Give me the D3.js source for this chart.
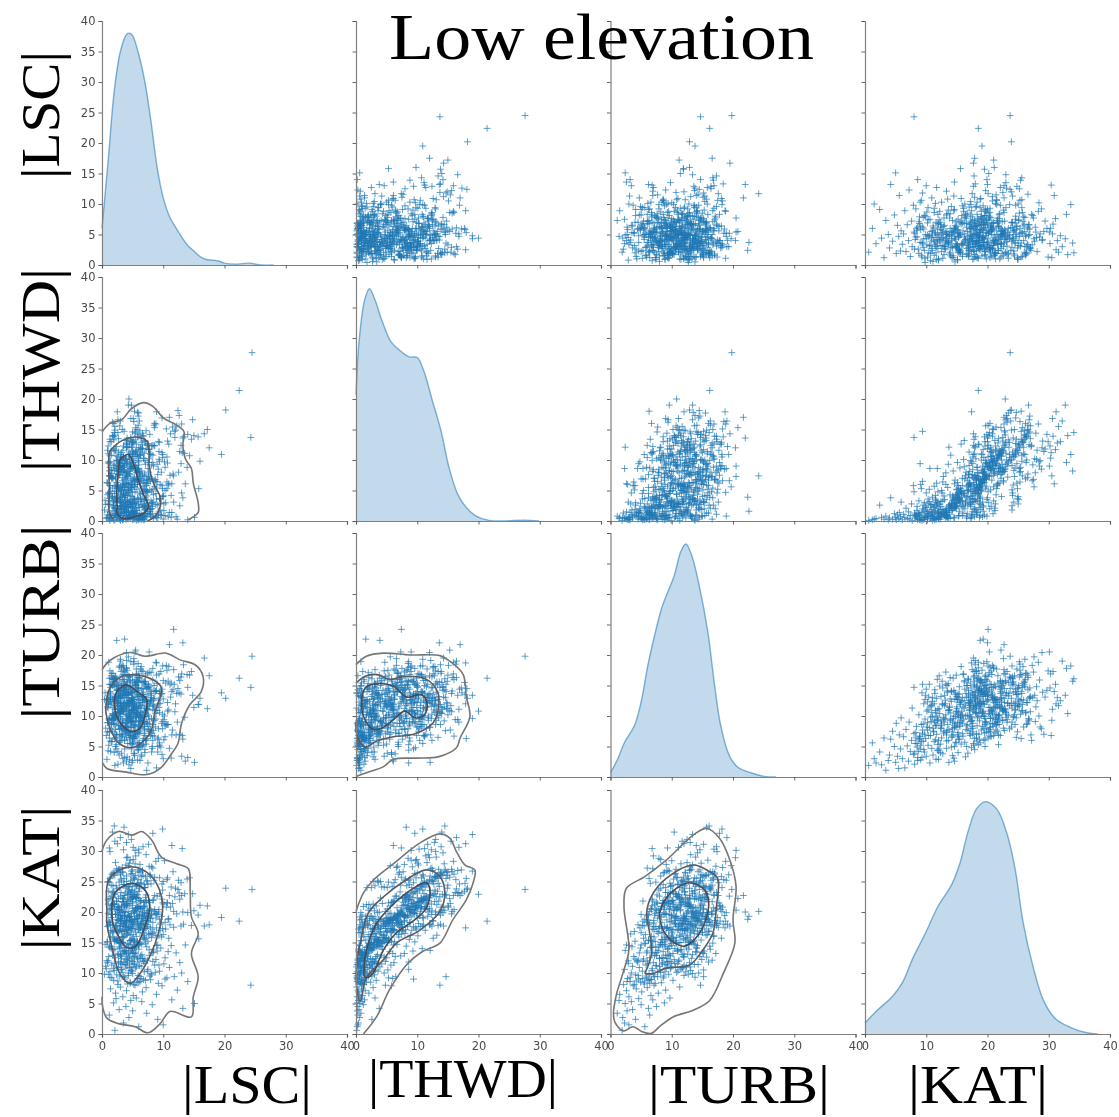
<!DOCTYPE html>
<html>
<head>
<meta charset="utf-8">
<script src="https://cdn.jsdelivr.net/npm/d3@7"></script>
<style>
  body { margin: 0; background: #fff; }
  svg { display: block; }
  .panels { filter: blur(0.4px); }
  .tick text { font-family: "DejaVu Sans", sans-serif; font-size: 11.5px; fill: #4a4a4a; }
  .big { font-family: "Liberation Serif", serif; fill: #000; }
</style>
</head>
<body>
<svg id="chart" width="1119" height="1117"></svg>
<script>
// values, one record per index
var lsc = [
  2.1,6.0,3.5,9.1,4.4,1.2,7.3,5.0,2.8,13.2,3.9,8.2,15.1,1.9,6.5,4.7,11.4,2.3,5.6,10.0,
  3.4,5.1,8.9,2.2,6.6,4.0,12.3,1.4,7.2,3.0,9.8,5.4,2.6,24.3,6.0,4.6,14.0,1.9,7.9,3.7,
  5.8,10.6,11.8,6.2,2.9,4.3,8.1,1.1,5.0,13.0,3.3,6.9,9.4,2.0,4.8,7.5,0.7,3.9,11.0,5.6,
  2.4,6.4,4.1,8.6,1.6,5.2,3.1,10.1,7.0,4.5,0.9,12.7,5.9,3.6,2.7,6.8,8.3,4.9,1.3,9.2,
  4.2,6.7,2.5,5.3,8.8,3.6,1.7,7.4,4.9,10.3,3.0,5.8,2.1,6.3,12.1,4.4,9.0,1.0,5.5,3.2,
  7.7,2.8,4.7,6.1,1.5,3.8,5.2,11.3,8.4,4.0,2.3,6.5,3.4,9.6,5.7,1.2,4.3,7.1,2.6,13.6,
  5.0,3.1,6.9,4.5,1.8,8.0,2.0,5.6,10.9,3.7,4.8,7.8,0.8,6.2,3.5,9.3,5.3,2.9,4.1,15.8,
  6.0,4.6,2.2,8.5,16.7,3.3,5.9,1.4,7.0,4.2,11.7,2.7,6.6,3.9,5.1,9.9,1.9,4.4,7.6,3.0,
  4.9,7.3,2.4,6.3,3.6,12.9,5.5,8.9,1.1,4.0,6.8,2.9,10.4,5.2,3.2,7.9,1.6,4.7,14.6,3.8,
  5.7,3.4,8.2,1.7,4.3,6.4,2.5,5.0,9.5,3.9,7.2,17.5,0.9,4.8,3.0,13.3,6.0,2.2,5.4,11.1,
  22.4,4.5,6.8,2.9,5.3,8.1,3.7,1.3,14.0,5.0,7.4,19.5,4.1,9.2,2.3,6.1,12.7,3.2,10.5,4.8,
  5.9,2.0,7.7,4.4,11.9,6.5,1.0,3.5,8.6,5.1,2.7,13.5,6.9,4.0,9.9,3.0,5.4,7.2,1.7,16.0,
  6.3,3.8,4.9,12.2,2.4,7.9,5.7,1.9,4.2,10.1,6.6,3.3,8.4,5.2,2.6,24.5,4.6,7.0,3.1,9.0,
  1.5,5.8,3.6,8.3,4.3,6.0,11.7,10.8,4.7,7.5,3.9,5.5,1.2,4.4,6.7,11.5,2.8,5.0,8.8,3.4,
  7.1,4.9,15.0,2.2,5.6,20.2,3.0,6.2,9.7,13.0,1.8,4.0,7.8,5.3,2.5,6.4,3.7,10.9,4.6,5.9,
  3.2,6.7,1.6,12.6,4.5,8.0,5.1,2.9,7.3,3.9,11.2,6.1,5.7,2.0,4.2,9.4,3.5,6.9,4.8,17.2,
  8.7,5.4,3.1,1.4,7.6,4.1,14.8,2.3,6.3,5.0,9.1,3.6,13.2,4.7,1.9,6.0,7.0,2.7,5.2,10.3,
  4.0,8.9,2.6,6.5,5.5,3.3,10.7,12.4,7.4,1.1,4.3,5.8,2.1,6.8,3.8,9.6,4.9,1.7,7.7,3.0,
  6.2,2.4,5.6,15.7,3.4,8.5,4.4,7.1,1.0,5.3,11.0,2.8,6.6,4.0,12.0,3.7,9.3,5.0,1.5,7.2,
  5.6,3.2,7.0,1.6,4.7,9.4,2.9,6.1,4.0,11.6,3.5,5.2,8.1,1.2,6.7,2.2,4.4,13.9,5.9,7.5,
  3.9,6.3,2.0,10.0,4.6,5.7,1.4,8.3,3.0,6.9,4.2,12.5,2.6,5.0,7.7,3.6,9.2,1.8,4.9,6.4,
  2.8,5.4,14.3,3.4,7.2,4.1,1.0,8.8,4.8,5.8,10.6,2.4,6.0,3.7,1.9,7.9,4.3,5.1,11.3,3.1,
  6.6,1.5,4.5,8.6,3.3,5.5,12.9,2.1,7.3,4.0,6.2,9.8,3.0,1.3,5.3,7.0,2.7,4.7,10.2,5.9,
  3.5,6.7,2.1,5.4,4.3,2.0,9.9,1.2,7.6,4.8,3.0,11.4,1.7,6.0,4.0,8.3,5.1,3.6,2.5,13.1,
  4.6,2.7,5.9,3.8,7.1,1.3,4.1,6.4,3.2,5.2,0.6,8.0,4.7,2.0,6.2,3.5,5.5,9.3,1.6,4.3,
  3.0,5.7,7.4,2.4,4.9,6.8,1.9,3.7,5.3,8.7,4.2,0.4,6.1,3.1,10.3,5.0,2.6,4.5,7.8,3.4,
  5.1,3.3,6.6,4.4,1.8,7.2,3.0,5.6,8.4,2.5,4.8,6.3,3.6,9.7,1.1,5.3,4.0,7.5,2.2,5.9,
  6.9,3.9,2.9,5.0,8.1,4.5,1.5,6.0,3.4,7.0,4.2,10.8,2.3,5.7,3.1,6.5,4.7,0.8,8.9,3.8,
  4.3,7.7,2.1,5.4,3.5,6.2,1.4,4.9,9.1,3.2,5.8,2.7,7.3,4.1,6.7,3.7,0.5,5.2,2.8,8.2,
  3.9,6.0,2.4,5.1,7.6,4.4,1.2,6.7,3.3,5.6,8.3,2.9,4.6,0.9,6.4,3.6,5.3,9.5,2.0,4.0,
  7.0,3.1,5.8,1.7,4.7,6.1,2.6,3.7,8.8,5.0,4.2,6.9,1.4,3.4,5.5,7.4,2.3,4.9,10.0,3.0,
  4.5,6.8,2.7,5.5,3.4,7.9,1.6,5.0,4.1,8.6,2.2,6.2,3.9,5.7,1.0,7.3,4.6,3.0,6.5,9.4,
  3.3,5.1,7.5,2.4,4.8,6.0,1.3,8.1,3.6,5.4,2.9,4.2,6.9,10.6,3.1,5.9,1.9,4.4,7.0,2.6,
  6.3,3.7,5.2,1.5,8.3,4.0,6.6,2.0,5.6,3.5,7.7,4.7,2.5,9.8,5.3,3.2,6.1,1.2,4.9,7.2,
  5.4,3.0,7.1,4.2,1.8,6.4,3.5,8.5,2.4,5.0,6.9,4.6,1.3,3.8,7.8,2.9,5.7,4.0,9.9,3.3,
  6.0,2.1,4.7,8.0,3.6,5.2,1.1,6.6,4.4,2.7,7.4,3.9,5.5,0.9,4.9,10.7,3.1,6.2,2.3,5.8
];
var thwd = [
  0.1,0.2,0.4,2.6,0.6,0.3,0.8,0.2,0.5,3.8,0.3,1.2,0.6,0.2,1.0,0.4,1.4,0.7,3.1,0.3,
  0.2,1.1,0.6,2.1,0.4,1.5,0.3,0.9,2.8,0.1,5.8,4.8,1.3,13.7,0.7,2.4,0.2,3.3,1.0,9.4,
  6.0,5.3,14.7,6.5,0.3,1.6,3.0,0.6,2.3,4.6,1.2,0.2,3.6,0.9,5.2,8.6,0.4,2.7,1.4,0.1,
  3.9,0.7,2.2,5.7,1.1,0.3,4.2,1.7,0.5,3.1,6.2,2.5,8.6,1.3,4.8,0.8,2.9,1.5,0.1,1.0,
  3.2,0.5,1.8,6.4,2.7,0.9,4.1,1.2,12.1,5.0,3.5,0.3,2.1,7.3,0.7,4.6,9.3,1.5,6.0,2.4,
  1.1,3.4,5.5,2.2,10.8,7.9,9.6,0.6,4.3,1.7,3.0,6.7,0.4,2.9,5.2,8.2,1.4,3.8,0.8,6.1,
  4.7,2.5,13.2,0.9,7.0,3.3,5.8,1.3,12.6,3.9,8.7,2.0,6.3,0.5,4.4,10.1,1.6,7.6,2.8,5.3,
  3.6,8.9,1.0,6.6,14.3,2.3,9.9,4.9,0.7,7.4,3.1,5.6,11.3,1.9,6.9,4.0,2.6,10.5,8.0,0.4,
  5.9,2.1,7.7,3.7,9.1,12.4,1.2,17.9,4.5,6.2,0.8,8.4,3.0,11.0,5.1,1.5,7.1,2.7,13.4,4.2,
  6.8,9.4,2.4,5.4,0.6,3.5,8.1,10.9,1.8,7.2,4.8,12.0,1.0,6.0,3.2,13.8,9.7,5.7,2.9,7.5,
  21.4,3.1,10.2,7.5,0.9,12.3,5.6,8.8,14.2,2.4,6.7,10.9,4.3,13.0,1.5,8.1,11.4,5.0,15.1,9.2,
  7.9,2.1,11.7,4.8,13.7,0.6,9.5,6.2,16.0,3.6,8.4,11.1,1.2,12.6,5.3,10.0,3.0,14.8,7.1,9.8,
  12.0,6.0,4.0,15.6,8.6,1.9,10.6,13.3,7.3,2.8,11.9,5.5,9.0,0.8,14.5,27.6,3.4,7.7,10.4,6.4,
  8.3,13.9,4.6,10.8,1.0,7.0,7.4,5.9,16.8,9.6,3.3,11.2,7.4,20.0,2.5,15.4,8.9,12.9,6.5,10.3,
  9.3,2.9,14.0,6.9,11.6,18.2,4.4,10.7,8.0,15.9,1.7,12.2,5.1,7.2,9.9,13.5,3.8,6.1,11.0,8.5,
  10.1,4.9,7.8,17.3,12.5,2.0,13.1,9.4,5.8,7.0,14.3,16.4,0.7,11.5,8.2,3.7,10.5,6.3,12.1,15.0,
  6.8,14.6,1.4,9.7,11.8,5.2,16.6,8.7,3.2,12.8,7.6,10.0,13.6,4.1,9.1,17.7,2.3,11.3,6.6,8.8,
  13.2,5.4,10.6,2.7,15.3,7.9,9.5,18.1,12.4,4.7,8.1,11.0,14.1,6.7,3.5,1.1,10.2,16.2,7.3,9.0,
  11.7,3.9,8.0,13.8,6.0,15.7,10.9,2.2,12.3,5.7,17.0,9.8,4.5,7.5,14.9,1.6,11.4,8.6,13.0,6.2,
  8.3,11.2,2.5,6.9,13.4,9.8,15.6,4.6,12.1,7.7,10.5,16.3,9.2,3.7,14.0,11.6,5.9,8.8,17.2,12.7,
  10.2,6.2,13.8,4.0,9.0,15.0,7.4,12.4,10.9,1.8,13.1,8.0,16.6,11.5,6.8,14.7,8.5,3.1,9.6,12.9,
  5.3,14.4,10.7,7.1,11.8,13.6,2.8,15.9,19.0,17.8,6.4,12.2,14.2,8.7,16.0,11.0,5.6,9.9,4.2,8.1,
  12.5,7.3,10.1,15.3,6.6,11.4,9.4,14.9,3.5,12.0,7.9,16.9,10.0,13.0,18.0,5.1,13.5,8.6,9.7,15.7,
  12.3,13.9,15.5,9.0,19.0,14.5,10.9,7.4,11.7,13.0,16.4,6.1,14.0,10.3,12.8,9.6,16.8,8.2,17.9,11.2,
  0.8,1.9,0.3,2.4,1.3,0.5,3.0,0.2,1.6,1.0,2.7,0.7,1.2,3.4,0.4,2.0,0.9,1.5,0.6,2.2,
  0.3,1.7,2.9,0.6,1.1,0.2,2.5,1.4,3.6,0.8,0.5,1.8,0.4,3.2,0.9,2.1,1.2,0.7,2.6,0.2,
  1.7,4.0,0.7,3.1,2.3,5.0,1.0,2.6,0.5,3.7,1.4,4.4,2.0,0.9,3.3,1.8,0.6,4.7,1.2,2.8,
  3.5,0.8,2.4,1.5,4.9,1.1,3.9,0.4,2.9,1.9,4.2,0.7,3.2,1.3,2.1,0.9,5.4,0.6,3.6,2.5,
  2.2,1.6,4.5,0.8,3.0,1.2,5.8,2.7,0.5,1.9,3.8,1.0,4.1,0.3,2.4,1.4,3.4,0.9,5.1,2.0,
  4.6,2.2,6.3,3.4,7.2,5.0,2.7,5.7,3.9,6.8,3.1,2.0,7.6,4.3,5.4,2.6,3.6,6.0,4.9,7.9,
  5.2,3.0,6.6,4.0,2.4,7.0,3.7,5.5,4.5,2.9,6.2,3.3,7.4,5.8,2.1,4.8,3.5,6.9,4.2,2.5,
  7.8,10.3,5.4,9.1,11.6,6.5,8.4,6.0,9.7,12.4,7.2,10.8,5.1,8.7,11.0,6.9,9.4,5.7,8.2,12.9,
  8.9,11.3,6.2,10.0,5.5,9.2,10.7,7.0,8.0,6.7,9.6,12.1,7.5,10.5,5.0,8.5,11.8,6.3,9.9,5.9,
  10.9,6.8,8.8,11.5,5.2,9.3,7.4,8.3,12.6,4.8,10.2,6.6,9.0,11.2,5.6,8.6,7.7,9.5,10.6,6.1,
  10.6,8.2,13.0,9.5,13.9,11.8,8.8,12.3,9.9,14.6,11.1,8.5,13.4,10.0,14.2,9.1,7.9,12.6,10.4,15.0,
  12.0,9.3,13.7,10.9,8.4,12.8,9.7,14.4,11.3,7.6,12.5,10.1,13.3,11.6,8.7,13.1,9.0,14.8,10.7,8.1
];
var turb = [
  1.9,5.6,2.3,4.1,2.0,6.4,1.1,2.7,3.6,6.2,7.5,5.0,2.4,8.8,3.4,1.4,6.9,4.6,9.7,3.0,
  3.0,6.6,1.5,7.8,5.1,2.6,9.0,4.2,6.0,11.3,3.7,7.1,2.1,14.7,8.3,5.5,3.2,10.2,6.7,4.6,
  2.8,8.6,15.2,7.2,5.9,12.0,4.1,9.5,6.3,3.4,10.8,7.7,5.2,13.1,8.1,2.3,6.8,11.7,4.7,9.9,
  12.4,3.6,7.4,9.3,5.8,14.3,8.4,6.1,10.5,2.9,12.9,7.0,4.4,16.0,9.7,5.3,11.1,8.9,13.8,6.4,
  9.2,6.0,12.6,3.8,10.4,14.1,7.5,11.2,2.4,8.7,13.4,5.4,16.3,9.8,6.9,12.0,10.9,4.3,15.2,8.0,
  11.6,7.9,13.9,5.6,9.4,17.2,10.3,3.1,12.8,6.5,14.8,8.8,11.0,4.9,13.2,9.6,7.3,16.7,10.6,2.6,
  12.3,8.2,15.6,6.2,10.1,13.7,4.0,11.5,18.1,7.6,9.0,14.4,12.7,5.0,10.8,16.9,8.5,13.0,3.3,11.9,
  7.1,12.5,9.7,15.0,19.5,6.7,11.4,13.6,4.5,10.0,17.6,8.4,12.2,14.9,5.7,9.1,16.1,10.7,7.8,13.3,
  11.8,6.3,14.2,9.3,12.1,16.4,8.6,18.7,5.2,10.2,13.1,7.0,15.4,11.3,3.9,12.6,9.5,14.6,17.3,8.0,
  10.6,13.5,6.8,12.8,9.2,15.7,11.7,5.5,14.0,8.3,12.4,16.6,7.4,10.9,13.8,18.4,4.8,11.1,9.9,15.1,
  16.2,10.4,13.1,7.8,15.4,9.6,12.2,5.9,14.7,11.0,17.0,13.8,8.5,12.6,6.4,10.0,15.8,11.5,18.3,9.1,
  13.3,7.2,12.1,16.5,10.7,14.5,8.9,11.9,6.7,13.0,15.1,9.8,12.5,17.9,10.3,14.0,7.5,11.2,16.0,12.9,
  8.1,14.9,11.6,13.7,5.3,12.3,16.8,10.1,15.5,9.4,13.5,7.0,11.8,18.9,14.3,19.8,9.9,12.7,6.0,15.3,
  12.0,10.5,17.4,8.6,13.9,11.3,24.2,15.7,9.0,12.4,14.6,6.6,16.2,10.8,13.2,7.7,18.0,11.7,14.1,9.5,
  15.6,12.8,11.4,5.0,17.7,12.9,14.2,8.3,13.6,16.9,10.2,19.1,7.4,12.1,15.0,9.7,13.4,11.0,6.8,18.6,
  10.9,14.4,8.8,13.8,12.0,17.1,9.3,15.9,11.5,7.1,13.1,16.3,10.6,14.8,12.6,5.6,18.2,9.9,13.7,11.2,
  14.0,7.6,12.3,15.2,10.0,17.5,13.4,8.7,11.8,16.6,6.2,14.7,22.0,9.2,12.7,15.5,10.8,13.0,19.4,8.4,
  11.6,16.7,9.6,13.5,20.8,7.9,12.2,14.5,10.3,18.8,6.9,15.8,11.1,13.9,8.0,17.3,12.8,9.4,20.5,10.7,
  13.3,22.4,15.0,11.9,8.9,14.1,16.4,10.5,12.5,7.3,21.7,13.6,9.7,17.8,12.0,22.6,11.4,15.6,8.6,14.8,
  12.1,15.0,9.0,17.0,6.5,13.7,10.7,16.1,8.2,14.3,11.7,18.5,13.0,7.4,15.5,12.5,9.8,16.8,14.6,11.0,
  13.4,17.7,8.6,12.8,15.9,10.2,14.7,6.0,19.3,11.3,13.9,16.4,9.4,12.3,17.2,14.0,7.9,15.2,10.6,18.1,
  14.5,11.5,16.7,8.8,13.1,15.6,12.0,18.8,9.6,13.5,17.5,6.9,14.2,11.0,16.0,12.6,19.7,8.2,15.4,10.3,
  12.9,16.6,14.8,10.9,18.3,7.0,13.6,15.7,11.8,20.4,9.1,14.4,12.2,17.4,6.3,15.1,13.2,18.9,10.0,16.3,
  14.6,17.3,11.7,20.5,13.4,16.1,18.2,9.3,15.2,12.5,19.0,14.0,10.4,16.9,13.0,17.8,11.1,15.7,12.0,6.8,
  7.3,10.6,4.5,8.9,6.1,12.3,9.4,5.2,11.5,3.9,8.0,13.4,6.8,10.0,2.7,7.7,9.1,12.0,5.8,14.4,
  8.5,4.9,11.0,7.0,13.0,6.3,9.8,3.2,10.9,8.2,5.5,12.7,7.5,15.2,6.6,9.2,4.2,11.8,8.7,13.7,
  10.2,6.9,13.2,8.1,11.4,5.4,9.0,14.0,7.6,12.2,4.6,10.8,15.3,8.8,11.9,3.5,9.6,13.6,6.4,12.7,
  8.3,14.9,10.5,5.9,12.5,7.2,16.2,9.3,11.2,4.0,13.5,8.6,10.0,15.7,6.7,11.7,9.8,2.9,14.2,7.8,
  12.4,9.4,6.2,15.0,10.7,8.0,13.0,11.0,5.0,14.6,7.3,12.0,9.0,16.6,10.3,6.0,13.8,8.4,11.5,4.7,
  11.3,8.5,13.3,6.6,14.7,10.1,7.4,12.6,9.2,15.5,11.8,5.7,13.9,8.9,10.6,16.8,6.9,12.1,9.7,14.3,
  7.9,12.9,10.4,15.0,8.2,11.6,13.6,6.2,9.5,14.1,11.1,7.1,12.3,16.0,10.0,8.8,13.1,5.3,15.8,9.9,
  12.4,9.1,14.2,10.8,13.0,7.7,15.1,11.5,8.8,12.9,16.5,10.2,13.8,6.4,11.3,14.5,9.5,12.1,17.4,10.6,
  13.4,11.0,8.3,15.4,12.6,9.8,14.0,7.2,13.1,16.0,10.4,12.2,15.7,8.6,11.7,14.7,9.3,13.5,6.8,11.2,
  10.1,14.3,12.7,8.0,15.9,11.4,13.2,9.6,16.9,12.0,7.5,14.9,10.7,13.7,11.8,18.0,8.9,15.2,12.3,10.0,
  13.9,10.9,15.3,12.1,17.0,9.7,14.4,11.6,16.2,13.0,8.6,15.8,12.7,10.3,14.8,18.2,11.2,13.6,7.9,16.7,
  12.5,15.6,10.5,14.0,17.6,11.9,13.3,9.2,16.4,12.9,14.7,8.2,15.1,11.5,13.8,10.8,17.3,12.2,9.9,14.5
];
var kat = [
  0.6,1.2,1.8,2.4,2.7,3.1,3.4,3.8,4.0,4.2,4.5,4.8,5.0,5.1,5.3,5.5,5.6,5.8,5.9,1.5,
  6.1,6.3,6.5,6.7,6.9,7.1,7.2,7.4,7.6,7.7,7.9,8.0,8.1,8.0,8.4,8.5,8.6,8.8,8.9,9.0,
  9.1,9.2,9.4,9.4,9.5,9.6,9.7,9.8,9.9,10.0,10.1,10.2,10.3,10.4,10.5,10.6,10.7,10.8,10.9,11.0,
  11.0,11.1,11.2,11.3,11.3,11.4,11.5,11.5,11.6,11.6,11.7,11.7,11.8,11.8,11.9,11.9,11.9,10.2,9.3,8.3,
  12.4,12.0,13.1,12.7,12.2,13.4,12.9,12.1,13.7,12.5,13.0,12.3,13.9,12.8,13.3,12.6,13.6,12.0,13.2,12.4,
  13.8,14.3,13.5,14.8,14.0,13.2,15.1,14.5,13.9,14.2,15.4,14.7,13.6,14.1,15.0,14.4,13.3,14.9,15.3,14.6,
  15.6,15.0,16.2,15.3,15.9,16.5,15.2,16.0,15.7,16.8,15.5,16.3,15.1,16.6,15.8,16.1,15.4,16.9,16.4,15.6,
  17.1,16.2,17.4,16.7,17.7,16.0,17.2,16.9,17.9,16.4,17.5,16.6,17.0,17.8,16.3,17.3,16.8,17.6,16.5,17.2,
  17.3,17.9,16.9,17.5,17.0,17.7,16.7,17.4,17.8,17.1,16.6,17.6,17.2,17.9,16.8,17.5,17.0,17.3,17.8,17.6,
  18.0,17.6,17.2,17.9,17.4,17.8,17.1,17.7,18.0,17.5,17.3,17.9,17.6,17.0,17.8,18.0,17.4,17.7,17.2,17.9,
  18.5,19.2,18.1,20.3,18.8,19.6,21.0,18.3,19.9,20.6,18.6,19.1,21.4,20.0,18.2,19.4,22.1,18.9,20.8,19.7,
  18.4,21.2,19.3,20.1,22.5,18.7,19.8,21.7,20.4,18.0,19.5,23.0,20.9,18.5,21.5,19.0,20.2,22.8,19.6,21.1,
  20.5,18.2,22.3,19.7,21.8,18.9,20.7,23.4,19.2,21.3,20.0,18.6,22.0,19.9,20.3,23.7,18.4,21.6,19.4,22.6,
  19.1,20.8,18.1,21.9,19.5,22.2,20.1,18.8,23.2,19.8,21.0,20.6,18.3,22.9,19.3,21.4,20.4,23.6,19.0,21.7,
  22.4,18.7,20.2,19.6,21.5,23.9,18.5,20.9,19.3,22.7,21.2,18.0,20.5,23.3,19.7,21.8,20.0,18.9,22.1,19.4,
  20.7,19.0,21.1,23.1,18.6,20.3,22.5,19.9,21.6,18.2,20.8,23.8,19.2,21.3,22.0,18.8,20.1,19.5,23.5,21.0,
  19.8,22.8,18.4,20.6,21.9,19.1,23.0,20.4,18.1,21.7,19.6,22.3,20.0,18.7,21.4,23.4,19.3,20.9,22.6,18.3,
  21.2,19.7,20.5,18.9,22.2,19.4,21.5,23.7,20.2,18.5,21.8,19.0,22.9,20.7,19.9,18.2,21.1,23.2,20.3,19.2,
  20.6,18.8,22.4,19.5,21.6,20.1,23.6,18.6,21.3,19.8,22.7,20.8,18.4,21.0,23.9,19.3,20.4,22.1,19.6,21.9,
  24.3,25.1,24.0,26.2,24.7,25.6,27.0,24.1,25.9,26.6,24.5,25.3,27.4,24.9,26.0,28.1,24.2,25.4,26.9,24.6,
  27.7,24.8,26.4,25.0,28.5,24.4,25.7,27.2,26.1,24.0,29.0,25.2,26.8,24.6,27.5,25.5,28.8,24.3,26.3,25.8,
  24.9,27.9,25.6,26.5,29.4,24.2,25.0,28.3,26.7,24.7,25.3,27.1,29.7,24.5,26.2,25.9,27.6,28.6,24.1,25.4,
  26.8,24.4,28.0,25.7,27.3,29.2,24.8,26.0,25.1,28.9,27.8,24.6,26.4,29.9,25.5,24.0,27.0,25.2,28.4,26.6,
  30.2,30.7,31.6,30.1,32.7,34.1,33.6,30.5,31.1,31.9,32.2,30.9,33.1,30.3,31.4,32.9,30.6,33.9,31.2,30.4,
  8.3,10.9,9.6,11.4,8.8,10.2,11.8,9.1,10.6,8.1,11.1,9.9,10.4,11.6,8.6,9.4,10.8,11.3,9.2,10.0,
  11.7,8.5,10.3,9.7,11.0,8.9,10.7,9.3,11.5,10.1,8.2,9.8,11.2,10.5,9.0,11.9,8.7,10.9,9.5,11.4,
  13.2,15.1,12.4,14.6,13.8,15.7,12.9,14.1,13.4,15.4,12.1,14.9,13.6,15.9,12.7,14.3,13.1,15.2,12.5,14.7,
  15.5,12.2,14.0,13.3,15.8,12.8,14.4,13.9,15.0,12.3,14.8,13.5,15.6,12.6,14.2,13.0,15.3,12.0,14.5,13.7,
  14.1,12.9,15.4,13.4,14.9,12.4,15.9,13.8,14.6,12.7,15.2,13.1,14.3,12.1,15.7,13.6,14.7,12.5,15.0,13.3,
  16.2,14.6,17.8,15.3,18.4,16.7,14.2,17.2,15.8,18.9,16.4,14.9,17.5,15.1,18.1,16.0,14.4,17.0,15.6,18.6,
  17.3,15.0,18.2,16.6,14.7,17.7,15.4,18.7,16.1,14.1,17.1,15.9,18.0,16.9,14.5,17.6,15.2,18.5,16.3,14.8,
  19.3,21.6,18.7,20.4,22.3,19.0,21.1,18.2,20.8,22.7,19.6,21.9,18.5,20.1,22.0,19.8,21.4,18.9,20.6,23.0,
  20.0,22.5,19.2,21.7,18.4,20.9,22.2,19.5,21.2,18.8,20.3,22.8,19.9,21.5,18.1,20.7,22.4,19.1,21.0,18.6,
  21.8,19.4,20.2,22.6,18.3,21.3,19.7,20.5,22.9,18.0,21.6,19.3,20.8,22.1,18.7,21.0,19.6,20.4,22.3,19.0,
  24.2,22.6,25.8,23.3,26.4,24.7,22.1,25.2,23.8,26.9,24.5,22.9,25.5,23.1,26.1,24.0,22.4,25.0,23.6,26.6,
  25.3,23.0,26.2,24.6,22.7,25.7,23.4,26.7,24.1,22.2,25.1,23.9,26.0,24.9,22.5,25.6,23.2,26.5,24.3,22.8
];

// density curves on the diagonal, read as [value, height]
var lscDensity = [[0,6],[1,17],[2,28.5],[3,35],[4,37.8],[4.5,38],[5,37.6],[6,34.5],[7,30],[8,23.5],[9,16],[10,11],[11,8],[12,6.2],[13,4.6],[14,3.2],[15,2.3],[16,1.4],[17,0.9],[18,0.8],[19,0.65],[20,0.3],[22,0.15],[24,0.3],[26,0],[28,0]];
var thwdDensity = [[0,20.7],[0.5,29.4],[1.4,36.2],[2.2,38.1],[3,36.5],[4.3,32.7],[5.7,29.4],[7.1,28],[8.7,26.9],[10,26.8],[11.1,24.5],[12.5,19.6],[13.9,14.7],[15.2,8.7],[16.6,4.4],[18,2.2],[19.6,0.8],[21.7,0.1],[24.5,0],[27.4,0.15],[29.9,0]];
var turbDensity = [[0,0.7],[1.2,3],[2.3,5.7],[3.9,8.4],[5,12.3],[6.1,18.3],[7.2,23.2],[8.3,27.5],[9.3,30.2],[10.4,33],[11.5,37],[12.3,38.2],[13.2,36.5],[14.5,31.3],[15.9,23.7],[17,15],[18,8.4],[19.4,3.5],[20.8,1.6],[22.9,0.7],[25.1,0.1],[27,0]];
var katDensity = [[0,1.8],[1.8,3.7],[4.5,6.2],[6.2,8.6],[7.8,12.4],[10,16.8],[11.9,20.9],[14.1,24.4],[15.5,28],[16.8,33.1],[18.2,36.9],[19.7,38.1],[21.5,36.9],[23.1,33.1],[24.5,27.1],[25.8,18.4],[27.5,10.8],[29.1,5.6],[31,2.6],[33.5,1.1],[36.2,0.2],[38,0]];

// density contours of the lower panels, outer to inner, traced as [x, y]
var thwdLscContours = [
  [[0,14.6],[1.3,16],[3.2,16.6],[4.8,18.4],[6.8,19.4],[8.4,18.7],[10,16.9],[12.2,15.7],[13.4,14.6],[13.2,12.4],[13.6,10.2],[14.6,8.6],[14.9,6.2],[15.7,3],[15.7,1.4],[14.1,0.2]],
  [[1.8,0.3],[1.2,1.4],[1.2,5],[1.1,10],[1.3,11.4],[3.5,13.3],[6.2,13.7],[7.4,13],[7.7,11.4],[7.7,9],[8.4,6.2],[9.5,4],[9.5,2.4],[8.7,0.8],[7.4,0]],
  [[2.5,2.2],[2.4,4.6],[2.7,8.4],[2.9,10],[4.3,10.9],[5.1,9.5],[5.9,6.8],[6.8,4.3],[7.6,2.4],[7,1.4],[5.4,0.7],[3.5,0.4],[2.4,1.4],[2.5,2.2]]
];
var turbLscContours = [
  [[0,17.6],[1.3,19.1],[4.5,20.4],[7,19.8],[10.5,20.3],[12.7,19.2],[15.2,18.4],[16.5,16.5],[16.2,14],[14.3,11.8],[13,8.8],[12.4,5.5],[11.4,3.9],[9.5,1.4],[7.3,0.4],[4,0.8],[0.8,1.4],[0.1,2.3]],
  [[0.65,11.6],[1.3,14.6],[3.5,16.6],[7.8,16.2],[9.7,14.6],[8.6,10.5],[8.1,7.8],[7,6.1],[4.8,4.8],[2.7,5.6],[1.3,8],[0.65,10.5],[0.65,11.6]],
  [[2,12.1],[2.4,14],[4,15.1],[5.7,14],[7.3,12.7],[7,10],[6.2,8],[4.6,7.5],[3.2,8.6],[2.3,10.2],[2,12.1]]
];
var turbThwdContours = [
  [[0,18.4],[1.7,19.8],[4.5,20.3],[8.8,20],[13.7,19.9],[15.3,19],[17.5,16.8],[18,13.2],[18.6,9.9],[17,6.4],[16.4,4.8],[13.4,3.3],[9.9,3.1],[6.1,2.9],[4.5,1.7],[1.7,0.7],[0,0.1]],
  [[0,15.4],[1.5,16.5],[3.4,16.8],[5.6,16],[7.8,16.5],[11.5,16],[13.3,14],[13.5,11.6],[12.6,8.9],[9.4,7],[6.1,6.6],[3.4,5.9],[1.5,4.9],[0.2,6.7],[0,9]],
  [[0.9,12.1],[1.5,14.6],[3.4,15.3],[6.1,14.9],[8.3,13.1],[10.7,13.5],[11.6,12.1],[11.2,10.2],[9.6,9.7],[8,10.8],[6.1,9.4],[4.2,8],[2.8,7.8],[1.2,10],[0.9,12.1]]
];
var katLscContours = [
  [[0,30],[0.8,31.8],[2.7,33.2],[4.9,32.6],[6.5,33.2],[8.1,31.8],[9.7,29],[12.2,27.9],[14.1,27.1],[14.4,23.5],[14.6,19.2],[15.7,16.5],[14.6,13.2],[15.7,9.4],[14.9,6.1],[14.6,2.8],[11.1,3.7],[9.5,1.7],[7.5,0.2],[5.4,1.2],[2.7,1.7],[0.8,2.6],[0.1,4.5],[0,6.1]],
  [[0.8,20.3],[1,25],[2.4,26.6],[4.6,27.4],[6.7,26.9],[8.9,24.7],[9.9,20.9],[9.2,16.5],[7.8,12.7],[6.2,9.9],[4.6,8.3],[2.9,9.9],[1.6,14.3],[0.8,18.1],[0.8,20.3]],
  [[1.6,20.3],[2.1,23.1],[4.8,24.7],[7,23.6],[7.8,21.1],[7,17.6],[5.4,14.3],[4,14.2],[2.7,16],[1.8,18.1],[1.6,20.3]]
];
var katThwdContours = [
  [[0,20.1],[1.2,23.1],[2.8,25.2],[6.6,28.3],[10.4,31.3],[13.7,32.8],[15.3,32.1],[16.4,29.9],[17.8,27.7],[19.4,26.9],[19.1,24.7],[18,22],[15.8,18.7],[13.7,14.9],[11,13.6],[8.3,11.4],[5.5,7.3],[3.4,2.9],[1.2,0]],
  [[0.1,11.6],[0.7,14.9],[2,19.8],[4.5,22.5],[7.8,25],[11.5,26.9],[13.7,25.8],[14.5,23.1],[13.7,20.1],[10.4,17],[6.6,14.9],[4.5,12.2],[1.7,9.2],[0.7,5.4],[0.1,7.8],[0.1,11.6]],
  [[1.3,9.5],[1.5,12.7],[3.1,17.7],[5.5,20.7],[9.1,23.7],[11.5,24.8],[12.1,23.1],[11.3,20.4],[9.3,18.5],[6.6,16.6],[4.5,13.8],[2.8,10],[1.7,9.2],[1.3,9.5]]
];
var katTurbContours = [
  [[0.5,3.9],[1,6.6],[2,9.9],[3,13.8],[2.2,20.9],[2.6,23.9],[5.6,25.8],[9.1,28.5],[13.5,32.6],[15.7,33.7],[17.8,32.1],[19.5,28.5],[20.5,24.2],[20,18.7],[20.3,14.9],[18.4,9.9],[16.2,5.5],[13.5,3.9],[10.2,2.8],[8,1.2],[6.7,0.1],[5.1,0.4],[3.7,1.2],[2.1,0.5],[0.7,2],[0.5,3.9]],
  [[5.6,9.9],[6.7,13.2],[6.4,16.5],[5.9,19.8],[6.7,22.6],[9.1,25.5],[13.5,27.7],[16.2,26.6],[17.5,25.5],[17.3,20.9],[16.7,16.5],[15.1,13.8],[12.9,11.3],[9.1,10.8],[6.9,9.9],[5.6,9.9]],
  [[8,19.8],[8.9,22],[10.8,23.9],[12.7,24.8],[15.1,23.9],[16,22],[15.7,19.2],[14.3,16.2],[12.1,14.4],[10.2,15.1],[8.9,16.5],[8.2,18.1],[8,19.8]]
];

var names = ['|LSC|', '|THWD|', '|TURB|', '|KAT|'];
var columns = [lsc, thwd, turb, kat];
var densities = [lscDensity, thwdDensity, turbDensity, katDensity];
var xTickValues = [0, 10, 20, 30, 40];
var yTickValues = [0, 5, 10, 15, 20, 25, 30, 35, 40];
var title = 'Low elevation';

// lower triangle, keyed row-column
var contours = {
  '1-0': thwdLscContours,
  '2-0': turbLscContours,
  '2-1': turbThwdContours,
  '3-0': katLscContours,
  '3-1': katThwdContours,
  '3-2': katTurbContours
};

var panelLeft = [102, 356, 610.5, 865];
var panelTop = [21, 277, 533, 790];
var panelWidth = 245;
var panelHeight = 244;

var blue = '#1f77b4';
var contourColors = ['#767676', '#5a5a60', '#454a55'];

var svg = d3.select('#chart');
var defs = svg.append('defs');
defs.append('clipPath').attr('id', 'panel-clip')
    .append('rect')
    .attr('x', -1).attr('y', -1)
    .attr('width', panelWidth + 2).attr('height', panelHeight + 2);

var xScale = d3.scaleLinear().domain([0, 40]).range([0, panelWidth]);
var yScale = d3.scaleLinear().domain([0, 40]).range([panelHeight, 0]);

var plus = 'M-3.4,0H3.4M0,-3.4V3.4';

var panels = svg.append('g').attr('class', 'panels');

panelTop.forEach(function (top, row) {
    panelLeft.forEach(function (left, col) {
        var g = panels.append('g')
            .attr('transform', 'translate(' + left + ',' + top + ')');

        if (row === col) {
            // density on the diagonal
            var area = d3.area()
                .x(function (d) { return xScale(d[0]); })
                .y0(yScale(0))
                .y1(function (d) { return yScale(d[1]); })
                .curve(d3.curveCatmullRom.alpha(0.5));
            g.append('path')
                .attr('d', area(densities[col]))
                .attr('fill', blue)
                .attr('fill-opacity', 0.27);
            g.append('path')
                .attr('d', area.lineY1()(densities[col]))
                .attr('fill', 'none')
                .attr('stroke', blue)
                .attr('stroke-opacity', 0.55)
                .attr('stroke-width', 1.4);
        } else {
            // one plus per record
            g.selectAll('.pt')
                .data(d3.range(lsc.length))
                .enter().append('path')
                .attr('class', 'pt')
                .attr('d', plus)
                .attr('transform', function (i) {
                    return 'translate(' + xScale(columns[col][i]) + ',' + yScale(columns[row][i]) + ')';
                })
                .attr('fill', 'none')
                .attr('stroke', blue)
                .attr('stroke-opacity', 0.7)
                .attr('stroke-width', 1);
        }

        var levels = contours[row + '-' + col];
        if (levels) {
            var contourLine = d3.line()
                .x(function (d) { return xScale(d[0]); })
                .y(function (d) { return yScale(d[1]); })
                .curve(d3.curveCatmullRom.alpha(0.5));
            g.append('g').attr('clip-path', 'url(#panel-clip)')
                .selectAll('path')
                .data(levels)
                .enter().append('path')
                .attr('d', contourLine)
                .attr('fill', 'none')
                .attr('stroke', function (d, i) { return contourColors[i]; })
                .attr('stroke-width', 1.6);
        }

        // axes, labels only on the outer edge
        var yAxis = d3.axisLeft(yScale).tickValues(yTickValues).tickSize(3.5).tickPadding(3);
        var xAxis = d3.axisBottom(xScale).tickValues(xTickValues).tickSize(3.5).tickPadding(4);
        if (col > 0) { yAxis.tickFormat(''); }
        if (row < 3) { xAxis.tickFormat(''); }

        var yG = g.append('g').call(yAxis);
        var xG = g.append('g').attr('transform', 'translate(0,' + panelHeight + ')').call(xAxis);
        [yG, xG].forEach(function (a) {
            a.selectAll('.domain').attr('stroke', '#808080').attr('stroke-width', 1.2);
            a.selectAll('.tick line').attr('stroke', '#555').attr('stroke-width', 0.9);
        });
    });
});

// big serif labels
var sideCenter = [115, 370, 622, 878];
var sideLength = [128, 204, 195, 145];
var bottomCenter = [247, 463, 739, 978];
var bottomLength = [130, 190, 182, 140];
var bottomBase = [1103, 1097, 1103, 1103];

names.forEach(function (name, i) {
    svg.append('text')
        .attr('class', 'big')
        .attr('text-anchor', 'middle')
        .attr('transform', 'translate(59,' + sideCenter[i] + ') rotate(-90)')
        .attr('textLength', sideLength[i])
        .attr('lengthAdjust', 'spacingAndGlyphs')
        .attr('font-size', 54)
        .text(name);
    svg.append('text')
        .attr('class', 'big')
        .attr('text-anchor', 'middle')
        .attr('x', bottomCenter[i])
        .attr('y', bottomBase[i])
        .attr('textLength', bottomLength[i])
        .attr('lengthAdjust', 'spacingAndGlyphs')
        .attr('font-size', 54)
        .text(name);
});

svg.append('text')
    .attr('class', 'big')
    .attr('x', 389)
    .attr('y', 59)
    .attr('textLength', 425)
    .attr('lengthAdjust', 'spacingAndGlyphs')
    .attr('font-size', 66)
    .text(title);
</script>
</body>
</html>
